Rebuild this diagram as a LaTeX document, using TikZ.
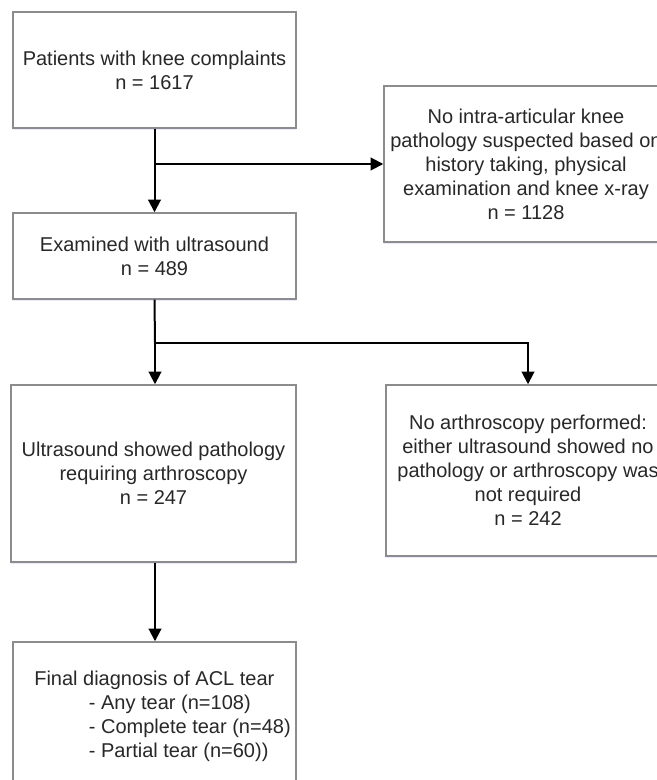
\documentclass[tikz,border=0pt]{standalone}
\usepackage{fontspec}
\setmainfont{Liberation Sans}
\usetikzlibrary{arrows.meta,shadows}
\definecolor{boxgray}{RGB}{140,140,140}
\definecolor{txtgray}{RGB}{40,40,40}
\tikzset{
  box/.style={draw=boxgray, line width=1.1pt, fill=white, inner sep=0pt,
    align=center, text=txtgray, font=\fontsize{15}{18}\selectfont,
    drop shadow={shadow xshift=0pt, shadow yshift=-1.5pt, fill=blue!25, opacity=0.35}},
  arr/.style={line width=1.5pt, -{Triangle[width=9.5pt,length=9.5pt]}},
  ln/.style={line width=1.5pt}
}
\begin{document}
\begin{tikzpicture}[x=0.75pt,y=-0.75pt]
\useasboundingbox (0,0) rectangle (656,780);

\node[box, minimum width=212.25pt, minimum height=87pt] (patients) at (154.5,70)
  {Patients with knee complaints\\n = 1617};
\node[box, minimum width=213pt, minimum height=117pt] (nopath) at (526,164)
  {No intra-articular knee\\pathology suspected based on\\history taking, physical\\examination and knee x-ray\\n = 1128};
\node[box, minimum width=212.25pt, minimum height=64.5pt] (exam) at (154.5,256)
  {Examined with ultrasound\\n = 489};
\node[box, minimum width=213.75pt, minimum height=132.75pt] (uspath) at (153.5,473.5)
  {Ultrasound showed pathology\\requiring arthroscopy\\n = 247};
\node[box, minimum width=213pt, minimum height=128.25pt] (noarth) at (528,470.5)
  {No arthroscopy performed:\\either ultrasound showed no\\pathology or arthroscopy was\\not required\\n = 242};
\node[box, align=left, minimum width=212.25pt, minimum height=111pt] (final) at (154.5,716)
  {\hspace*{12pt}Final diagnosis of ACL tear\\\hspace*{53pt}- Any tear (n=108)\\\hspace*{53pt}- Complete tear (n=48)\\\hspace*{53pt}- Partial tear (n=60))};

% connectors
\coordinate (split1) at (patients.south |- nopath.west);
\coordinate (split2) at (155,343);
\coordinate (turn2) at (noarth.north |- split2);

\draw[arr] (patients.south) -- (exam.north);
\draw[arr] (split1) -- (nopath.west);
\draw[ln] (exam.south) -- (split2);
\draw[arr] (split2) -- (uspath.north -| split2);
\draw[arr] (split2) -- (turn2) -- (noarth.north);
\draw[arr] (uspath.south -| split2) -- (final.north -| split2);
\end{tikzpicture}
\end{document}
